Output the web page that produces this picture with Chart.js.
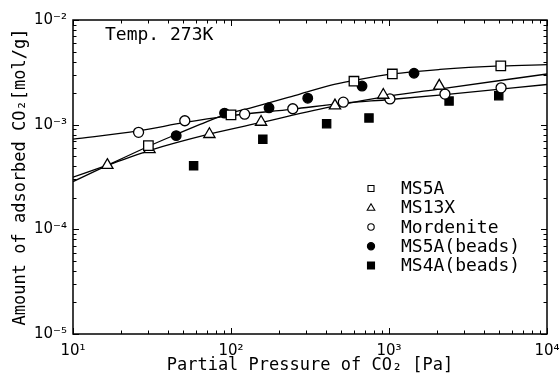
<!DOCTYPE html>
<html><head><meta charset="utf-8">
<script src="https://cdn.jsdelivr.net/npm/chart.js@4"></script>
<style>html,body{margin:0;padding:0;background:#fff}#wrap{width:560px;height:376px}</style>
</head><body><div id="wrap"><canvas id="c" width="560" height="376"></canvas></div>
<script>
// ---- data ----
const seriesNames = ['MS5A', 'MS13X', 'Mordenite', 'MS5A(beads)', 'MS4A(beads)'];
const pMS5A  = [30, 100, 600, 1050, 5100];
const qMS5A  = [6.3e-4, 1.24e-3, 2.6e-3, 3.05e-3, 3.65e-3];
const pMS13X = [16.5, 30.5, 73, 155, 455, 920, 2080];
const qMS13X = [4.1e-4, 5.8e-4, 8.1e-4, 1.06e-3, 1.52e-3, 1.92e-3, 2.35e-3];
const pMord  = [26, 51, 122, 246, 514, 1014, 2260, 5120];
const qMord  = [8.45e-4, 1.09e-3, 1.26e-3, 1.42e-3, 1.64e-3, 1.76e-3, 1.96e-3, 2.25e-3];
const pMS5Ab = [45, 91, 174, 306, 675, 1440];
const qMS5Ab = [7.85e-4, 1.29e-3, 1.45e-3, 1.79e-3, 2.34e-3, 3.1e-3];
const pMS4Ab = [58, 159, 403, 747, 2400, 4950];
const qMS4Ab = [4.06e-4, 7.24e-4, 1.02e-3, 1.16e-3, 1.68e-3, 1.89e-3];
// fitted curves
const fitP_MS5A  = [10, 14.8, 29.9, 44.9, 63.7, 91.6, 132, 273, 424, 600, 1045, 2100, 5120, 10000];
const fitQ_MS5A  = [2.86e-4, 3.78e-4, 6.19e-4, 8.06e-4, 1.005e-3, 1.25e-3, 1.44e-3, 1.96e-3, 2.37e-3, 2.64e-3, 3.05e-3, 3.37e-3, 3.64e-3, 3.74e-3];
const fitP_MS13X = [10, 16.7, 30.7, 73.6, 155, 455, 1014, 2070, 10000];
const fitQ_MS13X = [3.15e-4, 4.12e-4, 5.68e-4, 8.15e-4, 1.05e-3, 1.51e-3, 1.88e-3, 2.19e-3, 3.05e-3];
const fitP_Mord  = [10, 25.8, 51.2, 91.6, 247, 512, 1014, 2260, 10000];
const fitQ_Mord  = [7.26e-4, 8.71e-4, 1.05e-3, 1.2e-3, 1.41e-3, 1.6e-3, 1.74e-3, 1.94e-3, 2.42e-3];
// axis ticks
const xTickValues = [10, 100, 1000, 10000];
const xTickLabels = ['10¹', '10²', '10³', '10⁴'];
const yTickValues = [1e-5, 1e-4, 1e-3, 1e-2];
const yTickLabels = ['10⁻⁵', '10⁻⁴', '10⁻³', '10⁻²'];
const xTitle = 'Partial Pressure of CO₂ [Pa]';
const yTitle = 'Amount of adsorbed CO₂[mol/g]';
const noteText = 'Temp. 273K';

const pts = (p, q) => p.map((v, i) => ({x: v, y: q[i]}));
const styles = [
  {pointStyle: 'rect', radius: 6.7, fill: '#fff'},
  {pointStyle: 'triangle', radius: 6.5, fill: '#fff'},
  {pointStyle: 'circle', radius: 5, fill: '#fff'},
  {pointStyle: 'circle', radius: 4.8, fill: '#000'},
  {pointStyle: 'rect', radius: 5.8, fill: '#000'}
];
const markerData = [pts(pMS5A, qMS5A), pts(pMS13X, qMS13X), pts(pMord, qMord), pts(pMS5Ab, qMS5Ab), pts(pMS4Ab, qMS4Ab)];
const datasets = markerData.map((d, i) => ({
  label: seriesNames[i], data: d, showLine: false, order: 0,
  pointStyle: styles[i].pointStyle, pointRadius: styles[i].radius,
  pointBackgroundColor: styles[i].fill, pointBorderColor: '#000', pointBorderWidth: 1.3
}));
[[fitP_MS5A, fitQ_MS5A], [fitP_MS13X, fitQ_MS13X], [fitP_Mord, fitQ_Mord]].forEach(([p, q], i) => {
  datasets.push({label: 'fit' + i, data: pts(p, q), showLine: true, order: 1,
    borderColor: '#000', borderWidth: 1.3, pointRadius: 0, cubicInterpolationMode: 'monotone', fill: false});
});

const frame = {
  id: 'frame',
  afterDatasetsDraw(chart) {
    const ctx = chart.ctx, a = chart.chartArea, xs = chart.scales.x, ys = chart.scales.y;
    ctx.save();
    ctx.strokeStyle = '#000';
    ctx.lineWidth = 1;
    ctx.beginPath();
    for (let e = 1; e <= 4; e++) for (let m = 1; m <= 9; m++) {
      const v = m * Math.pow(10, e); if (v > 10000) break;
      const px = Math.round(xs.getPixelForValue(v)) + 0.5, len = m === 1 ? 6 : 3.5;
      ctx.moveTo(px, a.bottom); ctx.lineTo(px, a.bottom - len);
      ctx.moveTo(px, a.top); ctx.lineTo(px, a.top + len);
    }
    for (let e = -5; e <= -2; e++) for (let m = 1; m <= 9; m++) {
      const v = m * Math.pow(10, e); if (v > 1e-2 * 1.0001) break;
      const py = Math.round(ys.getPixelForValue(v)) + 0.5, len = m === 1 ? 6 : 3.5;
      ctx.moveTo(a.left, py); ctx.lineTo(a.left + len, py);
      ctx.moveTo(a.right, py); ctx.lineTo(a.right - len, py);
    }
    ctx.stroke();
    ctx.lineWidth = 1.5;
    ctx.strokeRect(a.left, a.top, a.right - a.left, a.bottom - a.top);
    // note
    ctx.fillStyle = '#000';
    ctx.font = '18px "DejaVu Sans Mono"';
    ctx.textBaseline = 'middle';
    ctx.textAlign = 'left';
    ctx.fillText(noteText, a.left + 32, a.top + 15);
    // legend
    const mx = a.left + 298, tx = a.left + 328;
    seriesNames.forEach((name, i) => {
      const y = a.top + 168.5 + i * 19.25;
      ctx.lineWidth = 1.1;
      ctx.strokeStyle = '#000';
      ctx.fillStyle = styles[i].fill;
      ctx.beginPath();
      if (i === 0) { ctx.rect(mx - 3, y - 3, 6, 6); }
      else if (i === 4) { ctx.rect(mx - 3.5, y - 3.5, 7, 7); }
      else if (i === 1) { ctx.moveTo(mx, y - 4); ctx.lineTo(mx + 3.8, y + 2.5); ctx.lineTo(mx - 3.8, y + 2.5); ctx.closePath(); }
      else { ctx.arc(mx, y, i === 3 ? 3.6 : 3.2, 0, Math.PI * 2); }
      ctx.fill(); ctx.stroke();
      ctx.fillStyle = '#000';
      ctx.fillText(name, tx, y + 1);
    });
    ctx.restore();
  }
};

new Chart(document.getElementById('c'), {
  type: 'scatter',
  data: {datasets},
  plugins: [frame],
  options: {
    responsive: false, animation: false, devicePixelRatio: 1,
    layout: {padding: {left: 0, right: 13, top: 20, bottom: 0}},
    plugins: {legend: {display: false}, tooltip: {enabled: false}},
    scales: {
      x: {
        type: 'logarithmic', min: 10, max: 10000,
        grid: {display: false, drawTicks: false}, border: {display: false},
        afterBuildTicks: s => { s.ticks = xTickValues.map(v => ({value: v})); },
        afterFit: s => { s.height = 42; s.paddingLeft = 0; s.paddingRight = 0; },
        ticks: {autoSkip: false, maxRotation: 0, padding: 8, color: '#000',
          font: {family: 'DejaVu Sans', size: 15},
          callback: v => { const k = xTickValues.indexOf(v); return k >= 0 ? xTickLabels[k] : ''; }},
        title: {display: true, text: xTitle, color: '#000', padding: {top: 0, bottom: 0},
          font: {family: 'DejaVu Sans Mono', size: 17}}
      },
      y: {
        type: 'logarithmic', min: 1e-5, max: 1e-2,
        grid: {display: false, drawTicks: false}, border: {display: false},
        afterBuildTicks: s => { s.ticks = yTickValues.map(v => ({value: v})); },
        afterFit: s => { s.width = 73; s.paddingTop = 0; s.paddingBottom = 0; },
        ticks: {autoSkip: false, padding: 6, color: '#000',
          font: {family: 'DejaVu Sans', size: 15},
          callback: v => { const k = yTickValues.findIndex(t => Math.abs(t - v) / t < 1e-6); return k >= 0 ? yTickLabels[k] : ''; }},
        title: {display: true, text: yTitle, color: '#000', padding: {top: 10, bottom: 0},
          font: {family: 'DejaVu Sans Mono', size: 17}}
      }
    }
  }
});
</script>
</body></html>
